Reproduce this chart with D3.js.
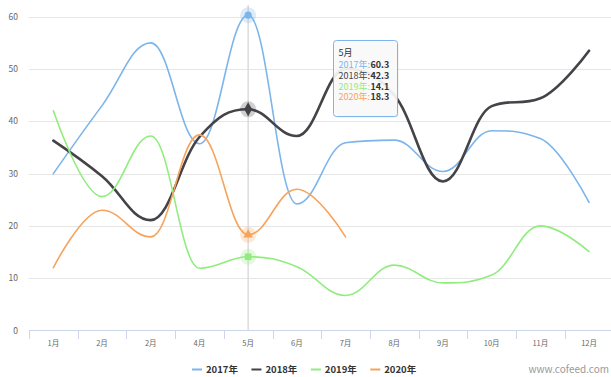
<!DOCTYPE html>
<html>
<head>
<meta charset="utf-8">
<script src="https://cdn.jsdelivr.net/npm/d3@7/dist/d3.min.js"></script>
<style>
  body { margin: 0; background: #fff; }
  svg { display: block; font-family: "Noto Sans CJK SC", "Noto Sans", sans-serif; }
</style>
</head>
<body>
<svg id="chart" width="611" height="377"></svg>
<script>
// Month labels along the category axis
const monthLabels = ["1月", "2月", "2月", "4月", "5月", "6月", "7月", "8月", "9月", "10月", "11月", "12月"];
const yTicks = [0, 10, 20, 30, 40, 50, 60];

// Yearly series
const seriesNames = ["2017年", "2018年", "2019年", "2020年"];
const seriesColors = ["#7cb5ec", "#434348", "#90ed7d", "#f7a35c"];
const values2017 = [30.0, 43.0, 55.0, 35.7, 60.3, 24.2, 35.9, 36.4, 30.4, 38.2, 36.7, 24.5];
const values2018 = [36.3, 29.5, 21.1, 37.0, 42.3, 37.2, 50.0, 45.0, 28.5, 42.9, 44.4, 53.5];
const values2019 = [42.0, 25.6, 37.2, 11.9, 14.1, 12.2, 6.7, 12.5, 9.1, 10.6, 20.0, 15.1];
const values2020 = [12.0, 23.0, 17.9, 37.4, 18.3, 27.0, 17.9];
const seriesValues = [values2017, values2018, values2019, values2020];
const markerSymbols = [d3.symbolCircle, d3.symbolDiamond, d3.symbolSquare, d3.symbolTriangle];

const hoverIndex = 4; // 5月

const svg = d3.select("#chart");
const W = 611, H = 377;
const plot = { left: 29, right: 613.4, top: 5, bottom: 330.5 };

const x = d3.scaleBand().domain(d3.range(monthLabels.length)).range([plot.left, plot.right]);
const y = d3.scaleLinear().domain([0, 60]).range([plot.bottom, 16.7]);
const cx = i => x(i) + x.bandwidth() / 2;

// Grid lines
svg.append("g").selectAll("line").data(yTicks.filter(t => t > 0)).join("line")
  .attr("x1", plot.left).attr("x2", W)
  .attr("y1", d => Math.round(y(d)) + 0.5).attr("y2", d => Math.round(y(d)) + 0.5)
  .attr("stroke", "#e6e6e6").attr("stroke-width", 1);

// Y axis labels
svg.append("g").selectAll("text").data(yTicks).join("text")
  .attr("x", 18).attr("y", d => y(d) + 3)
  .attr("text-anchor", "end")
  .attr("font-size", 8.5).attr("fill", "#666")
  .text(d => d);

// Crosshair at hovered category
svg.append("line")
  .attr("x1", cx(hoverIndex)).attr("x2", cx(hoverIndex))
  .attr("y1", plot.top).attr("y2", plot.bottom)
  .attr("stroke", "#dcdcdc").attr("stroke-width", 1.5);

// X axis line, ticks between categories, labels at centres
const xAxis = svg.append("g");
xAxis.append("line")
  .attr("x1", plot.left).attr("x2", W)
  .attr("y1", 330.5).attr("y2", 330.5)
  .attr("stroke", "#ccd6eb").attr("stroke-width", 1);
xAxis.selectAll("line.tick").data(d3.range(monthLabels.length)).join("line")
  .attr("class", "tick")
  .attr("x1", d => Math.round(x(d)) + 0.5).attr("x2", d => Math.round(x(d)) + 0.5)
  .attr("y1", 330.5).attr("y2", 339)
  .attr("stroke", "#ccd6eb").attr("stroke-width", 1);
xAxis.selectAll("text").data(d3.range(monthLabels.length)).join("text")
  .attr("x", d => cx(d)).attr("y", 345.5)
  .attr("text-anchor", "middle")
  .attr("font-size", 7.5).attr("fill", "#666")
  .text(d => monthLabels[d]);

// Highcharts-style spline through points
function splinePath(pts) {
  const smoothing = 1.5, denom = smoothing + 1;
  const p = d3.path();
  let prevRC = null;
  pts.forEach((pt, i) => {
    if (i === 0) { p.moveTo(pt[0], pt[1]); return; }
    const last = pts[i - 1], next = pts[i + 1];
    let lcx = pt[0], lcy = pt[1], rc = null;
    if (next) {
      const [px, py] = pt;
      let lx = (smoothing * px + last[0]) / denom;
      let ly = (smoothing * py + last[1]) / denom;
      let rx = (smoothing * px + next[0]) / denom;
      let ry = (smoothing * py + next[1]) / denom;
      let corr = 0;
      if (rx !== lx) corr = ((ry - ly) * (rx - px)) / (rx - lx) + py - ry;
      ly += corr; ry += corr;
      if (ly > last[1] && ly > py) { ly = Math.max(last[1], py); ry = 2 * py - ly; }
      else if (ly < last[1] && ly < py) { ly = Math.min(last[1], py); ry = 2 * py - ly; }
      if (ry > next[1] && ry > py) { ry = Math.max(next[1], py); ly = 2 * py - ry; }
      else if (ry < next[1] && ry < py) { ry = Math.min(next[1], py); ly = 2 * py - ry; }
      lcx = lx; lcy = ly; rc = [rx, ry];
    }
    const c1 = prevRC || last;
    p.bezierCurveTo(c1[0], c1[1], lcx, lcy, pt[0], pt[1]);
    prevRC = rc;
  });
  return p.toString();
}

const lineWidths = [1.6, 2.6, 1.6, 1.6];
const linesG = svg.append("g");
seriesValues.forEach((vals, s) => {
  const pts = vals.map((v, i) => [cx(i), y(v)]);
  linesG.append("path")
    .attr("d", splinePath(pts))
    .attr("fill", "none")
    .attr("stroke", seriesColors[s])
    .attr("stroke-width", lineWidths[s])
    .attr("stroke-linejoin", "round").attr("stroke-linecap", "round");
});

// Hover markers with halos
const markerSizes = [40, 55, 45, 40];
seriesValues.forEach((vals, s) => {
  const mx = cx(hoverIndex), my = y(vals[hoverIndex]);
  svg.append("circle").attr("cx", mx).attr("cy", my).attr("r", 8)
    .attr("fill", seriesColors[s]).attr("fill-opacity", 0.25);
  svg.append("path")
    .attr("transform", `translate(${mx},${my})`)
    .attr("d", d3.symbol().type(markerSymbols[s]).size(markerSizes[s])())
    .attr("fill", seriesColors[s]);
});

// Tooltip
const tip = svg.append("g").attr("transform", "translate(333.5,40.5)");
const tipW = 64, tipH = 76;
tip.append("rect").attr("x", 1).attr("y", 1).attr("width", tipW).attr("height", tipH)
  .attr("rx", 3).attr("fill", "rgba(0,0,0,0.08)");
tip.append("rect").attr("width", tipW).attr("height", tipH).attr("rx", 3)
  .attr("fill", "rgba(250,250,250,0.92)").attr("stroke", seriesColors[0]).attr("stroke-width", 1);
tip.append("text").attr("x", 5).attr("y", 15.5)
  .attr("font-size", 9).attr("fill", "#333").text(monthLabels[hoverIndex]);
seriesValues.forEach((vals, s) => {
  const rowY = 27.5 + s * 10.8;
  const nameText = tip.append("text").attr("x", 5).attr("y", rowY)
    .attr("font-size", 9).attr("fill", seriesColors[s]).text(seriesNames[s] + ":");
  const nw = nameText.node().getComputedTextLength();
  tip.append("text").attr("x", 5 + nw + 0.5).attr("y", rowY)
    .attr("font-size", 9).attr("font-weight", "bold").attr("fill", "#333")
    .text(vals[hoverIndex].toFixed(1));
});

// Legend
const legend = svg.append("g");
let lx = 192;
seriesNames.forEach((name, s) => {
  legend.append("line").attr("x1", lx).attr("x2", lx + 10)
    .attr("y1", 369.5).attr("y2", 369.5)
    .attr("stroke", seriesColors[s]).attr("stroke-width", 2);
  const t = legend.append("text").attr("x", lx + 14).attr("y", 373)
    .attr("font-size", 9.5).attr("font-weight", "bold").attr("fill", "#333").text(name);
  lx += 14 + t.node().getComputedTextLength() + 13.5;
});

// Credits
svg.append("text").attr("x", 609).attr("y", 373)
  .attr("text-anchor", "end").attr("font-size", 10).attr("fill", "#999")
  .text("www.cofeed.com");
</script>
</body>
</html>
